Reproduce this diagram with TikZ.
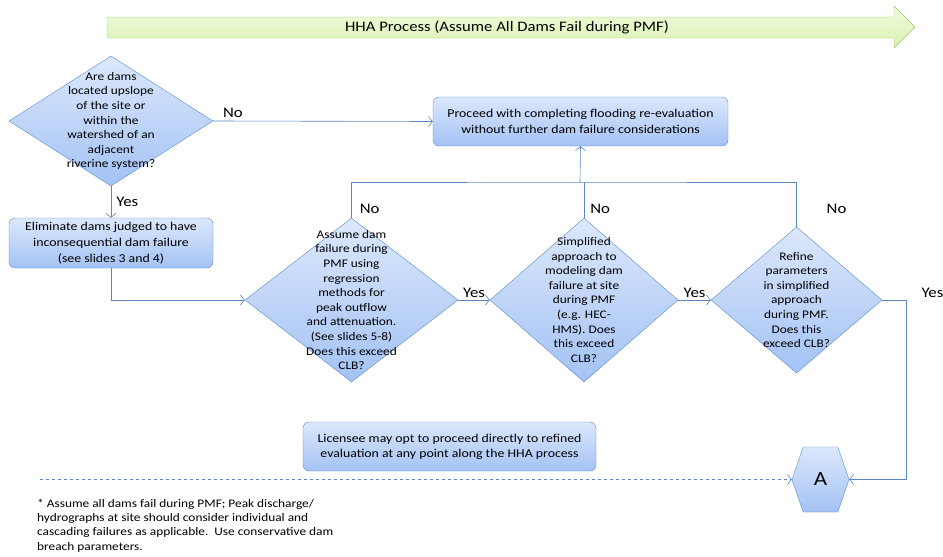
\documentclass[tikz,border=0pt]{standalone}
\usepackage{fontspec}
\setmainfont[FakeStretch=1.15]{Carlito}
\usetikzlibrary{shapes.geometric,shapes.symbols,arrows.meta,positioning}

\definecolor{boxtop}{HTML}{DCE8FC}
\definecolor{boxbot}{HTML}{A3C2F4}
\definecolor{boxline}{HTML}{5B8BC9}
\definecolor{flowline}{HTML}{5A86C4}
\definecolor{greentop}{HTML}{EFFBDF}
\definecolor{greenbot}{HTML}{D9F2B0}
\definecolor{greenline}{HTML}{9BCB5F}

\tikzset{
  box/.style={rectangle, rounded corners=6pt, draw=boxline, top color=boxtop, bottom color=boxbot,
    align=center, font=\fontsize{12}{16.5}\selectfont, inner sep=2pt},
  decision/.style={diamond, draw=boxline, top color=boxtop, bottom color=boxbot, inner sep=0pt},
  dtext/.style={align=center, font=\fontsize{11.6}{14.6}\selectfont},
  hexa/.style={signal, signal to=west and east, signal pointer angle=142, draw=boxline,
    top color=boxtop, bottom color=boxbot, minimum width=57pt, minimum height=65pt,
    inner sep=0pt, font=\fontsize{20}{22}\selectfont},
  conn/.style={draw=flowline, semithick, -{Straight Barb[length=4pt,width=10pt]}},
  lbl/.style={font=\fontsize{14.6}{16}\selectfont, text=black, inner sep=1pt}
}

\begin{document}
\begin{tikzpicture}[x=1pt, y=-1pt]
    \useasboundingbox (0,0) rectangle (943,557);

    % title arrow
    \draw[greenline, top color=greentop, bottom color=greenbot]
      (107,17) -- (894,17) -- (894,6) -- (915,27) -- (894,48) -- (894,38) -- (107,38) -- cycle;
    \node[font=\fontsize{14.5}{16}\selectfont] (title) at (507,27.5) {HHA Process (Assume All Dams Fail during PMF)};

    % shapes
    \node[decision, minimum width=204pt, minimum height=130pt] (d1) at (111,121) {};
    \node[dtext] at (d1) {Are dams\\located upslope\\of the site or\\within the\\watershed of an\\adjacent\\riverine system?};

    \node[box, minimum width=295pt, minimum height=49pt] (proceed) at (580.5,121.5)
      {Proceed with completing flooding re-evaluation\\without further dam failure considerations};

    \node[box, minimum width=204pt, minimum height=50pt, font=\fontsize{12}{15.7}\selectfont] (elim) at (111,243)
      {Eliminate dams judged to have\\inconsequential dam failure\\(see slides 3 and 4)};

    \node[decision, minimum width=213pt, minimum height=164pt] (d2) at (351.5,300) {};
    \node[dtext] at (d2) {Assume dam\\failure during\\PMF using\\regression\\methods for\\peak outflow\\and attenuation.\\(See slides 5-8)\\Does this exceed\\CLB?};

    \node[decision, minimum width=188pt, minimum height=164pt] (d3) at (584,300) {};
    \node[dtext] at (d3) {Simplified\\approach to\\modeling dam\\failure at site\\during PMF\\(e.g. HEC-\\HMS). Does\\this exceed\\CLB?};

    \node[decision, minimum width=171pt, minimum height=146pt] (d4) at (796.5,300) {};
    \node[dtext] at (d4) {Refine\\parameters\\in simplified\\approach\\during PMF.\\Does this\\exceed CLB?};

    \node[box, minimum width=293pt, minimum height=49pt, font=\fontsize{12}{15}\selectfont] (licensee) at (449.5,446.5)
      {Licensee may opt to proceed directly to refined\\evaluation at any point along the HHA process};

    \node[hexa] (A) at (820.5,479.5) {A};

    \node[align=left, anchor=north west, inner sep=0pt, font=\fontsize{11.6}{14.2}\selectfont] (note) at (37,499)
      {* Assume all dams fail during PMF; Peak discharge/\\hydrographs at site should consider individual and\\cascading failures as applicable.\ \ Use conservative dam\\breach parameters.};

    \coordinate (bar) at (580,182);
    \coordinate (dstart) at (40,479.5);

    % connectors
    \draw[conn] (d1.east) -- (proceed.west) node[lbl, pos=0.09, above=2pt] {No};
    \draw[conn] (d1.south) -- (elim.north) node[lbl, midway, right=4pt] {Yes};
    \draw[conn] (elim.south) |- (d2.west);
    \draw[conn] (d2.east) -- (d3.west) node[lbl, midway, above=1pt] {Yes};
    \draw[conn] (d3.east) -- (d4.west) node[lbl, midway, above=1pt] {Yes};
    \draw[conn] (d4.east) -- ++(24,0) node[lbl, above right=1pt and 14pt] {Yes} |- (A.east);
    \draw[flowline, semithick] (d2.north) |- (bar) node[lbl, pos=0.125, right=7pt] {No} -| (d4.north);
    \draw[flowline, semithick] (d3.north) -- (d3.north |- bar) node[lbl, pos=0.25, right=5pt] {No};
    \path (d4.north) -- (d4.north |- bar) node[lbl, pos=0.4, right=29pt] {No};
    \draw[conn] (bar) -- (proceed.south);
    \draw[conn, dashed] (dstart) -- (A.west);
\end{tikzpicture}
\end{document}
